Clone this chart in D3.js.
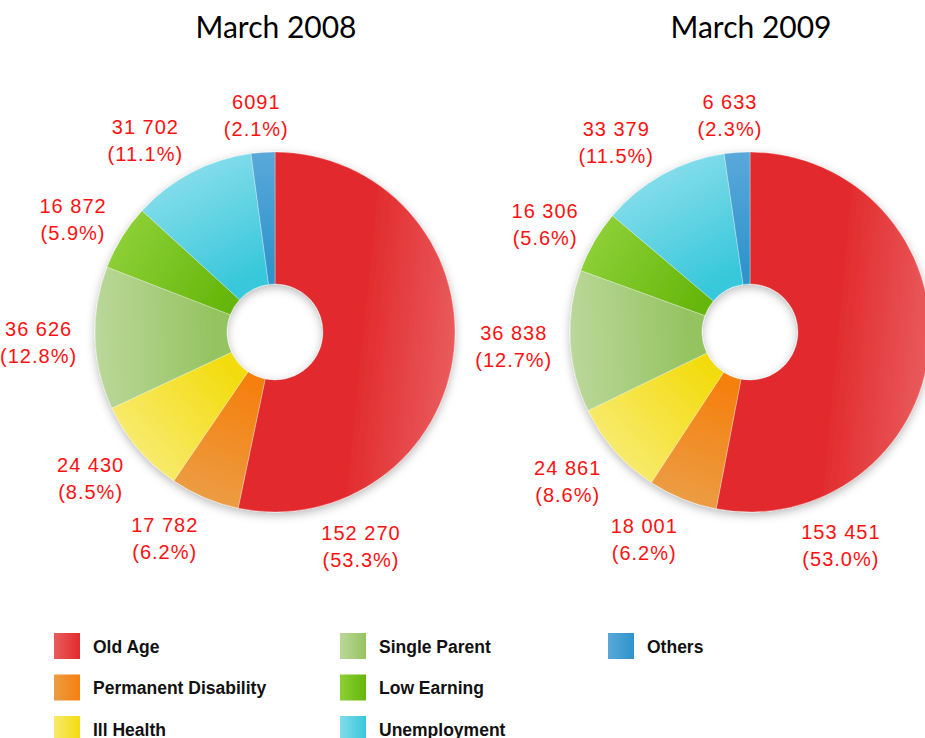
<!DOCTYPE html>
<html>
<head>
<meta charset="utf-8">
<script src="https://cdn.jsdelivr.net/npm/d3@7"></script>
<style>
  body { margin: 0; background: #fff; }
  svg { display: block; }
</style>
</head>
<body>
<div id="chart"></div>
<script>
var width = 925,
    height = 738;

// data
var categories = ["Old Age", "Permanent Disability", "Ill Health", "Single Parent", "Low Earning", "Unemployment", "Others"];
var titles = ["March 2008", "March 2009"];
var values2008 = [152270, 17782, 24430, 36626, 16872, 31702, 6091];
var values2009 = [153451, 18001, 24861, 36838, 16306, 33379, 6633];
var text2008 = ["152 270", "17 782", "24 430", "36 626", "16 872", "31 702", "6091"];
var text2009 = ["153 451", "18 001", "24 861", "36 838", "16 306", "33 379", "6 633"];
// light (outer) and dark (inner) shade per category
var lightColors = ["#e95b5d", "#ec9c42", "#f8ea6c", "#bad89a", "#8ccf36", "#82dcea", "#5aa8da"];
var darkColors  = ["#e22b2d", "#f5800f", "#f3dc10", "#95c360", "#66b70c", "#38c8db", "#2d94cb"];

var outerR = 180, innerR = 48;

var svg = d3.select("#chart").append("svg")
    .attr("width", width)
    .attr("height", height);

var defs = svg.append("defs");

var shadow = defs.append("filter")
    .attr("id", "shadow")
    .attr("x", "-20%").attr("y", "-20%")
    .attr("width", "140%").attr("height", "140%");
shadow.append("feDropShadow")
    .attr("dx", 0).attr("dy", 3)
    .attr("stdDeviation", 5)
    .attr("flood-color", "#000")
    .attr("flood-opacity", 0.28);

var pie = d3.pie().sort(null).value(function (d) { return d; });
var arc = d3.arc().innerRadius(innerR).outerRadius(outerR);

var charts = [
    {title: titles[0], values: values2008, text: text2008, cx: 275, cy: 332, id: "a"},
    {title: titles[1], values: values2009, text: text2009, cx: 750, cy: 332, id: "b"}
];

function point(angle, r) {
    return [Math.sin(angle) * r, -Math.cos(angle) * r];
}

var labelFont = "'Liberation Sans', Arial, Helvetica, sans-serif";

charts.forEach(function (c) {
    var total = d3.sum(c.values);
    var arcs = pie(c.values);

    svg.append("text")
        .attr("x", c.cx + 1)
        .attr("y", 38)
        .attr("text-anchor", "middle")
        .style("font-family", "Lato, 'Open Sans', sans-serif")
        .style("font-size", "30px")
        .style("fill", "#000")
        .text(c.title);

    var g = svg.append("g")
        .attr("transform", "translate(" + c.cx + "," + c.cy + ")");

    arcs.forEach(function (d, i) {
        var mid = (d.startAngle + d.endAngle) / 2;
        var p1 = point(mid, outerR),
            p2 = point(mid, i === 0 ? 85 : 60);
        var grad = defs.append("linearGradient")
            .attr("id", "g" + c.id + i)
            .attr("gradientUnits", "userSpaceOnUse")
            .attr("x1", p1[0]).attr("y1", p1[1])
            .attr("x2", p2[0]).attr("y2", p2[1]);
        grad.append("stop").attr("offset", "0%").attr("stop-color", lightColors[i]);
        grad.append("stop").attr("offset", "100%").attr("stop-color", darkColors[i]);
    });

    var slices = g.append("g").attr("filter", "url(#shadow)");
    slices.selectAll("path")
        .data(arcs)
        .enter().append("path")
        .attr("d", arc)
        .attr("fill", function (d, i) { return "url(#g" + c.id + i + ")"; })
        .attr("stroke", "rgba(255,255,255,0.5)")
        .attr("stroke-width", 0.6);

    // value labels, two lines, pushed outward so the block clears the ring
    var labels = g.selectAll(".lbl")
        .data(arcs)
        .enter().append("text")
        .attr("class", "lbl")
        .attr("text-anchor", "middle")
        .style("font-family", labelFont)
        .style("font-size", "20px")
        .style("letter-spacing", "1px")
        .style("fill", "#ff1111");
    labels.append("tspan")
        .attr("x", 0)
        .attr("y", -3)
        .text(function (d, i) { return c.text[i]; });
    labels.append("tspan")
        .attr("x", 0)
        .attr("y", 24)
        .text(function (d, i) { return "(" + d3.format(".1f")(d.value / total * 100) + "%)"; });

    labels.attr("transform", function (d, i) {
        var bb = this.getBBox();
        var a = i === 0 ? d.endAngle - 0.5 : (d.startAngle + d.endAngle) / 2;
        var sx = Math.sin(a), sy = -Math.cos(a);
        var p = point(a, 198);
        var ox = Math.max(-1, Math.min(1, sx * 2.5)) * bb.width / 2,
            oy = sy * 22.5;
        return "translate(" + (p[0] + ox) + "," + (p[1] + oy) + ")";
    });
});

// legend
categories.forEach(function (name, i) {
    var grad = defs.append("linearGradient")
        .attr("id", "leg" + i)
        .attr("x1", 0).attr("y1", 0)
        .attr("x2", 1).attr("y2", 0);
    grad.append("stop").attr("offset", "0%").attr("stop-color", lightColors[i]);
    grad.append("stop").attr("offset", "100%").attr("stop-color", darkColors[i]);
});

var colX = [54, 340, 608],
    rowY = d3.scaleLinear().domain([0, 1]).range([633, 674.5]);

var legend = svg.selectAll(".legend")
    .data(categories)
    .enter().append("g")
    .attr("class", "legend")
    .attr("transform", function (d, i) {
        var col = i < 3 ? 0 : (i < 6 ? 1 : 2),
            row = i < 6 ? i % 3 : 0;
        return "translate(" + colX[col] + "," + rowY(row) + ")";
    });

legend.append("rect")
    .attr("width", 26)
    .attr("height", 26)
    .attr("fill", function (d, i) { return "url(#leg" + i + ")"; });

legend.append("text")
    .attr("x", 39)
    .attr("y", 19.5)
    .style("font-family", labelFont)
    .style("font-size", "17.5px")
    .style("font-weight", "bold")
    .style("fill", "#111")
    .text(function (d) { return d; });
</script>
</body>
</html>
